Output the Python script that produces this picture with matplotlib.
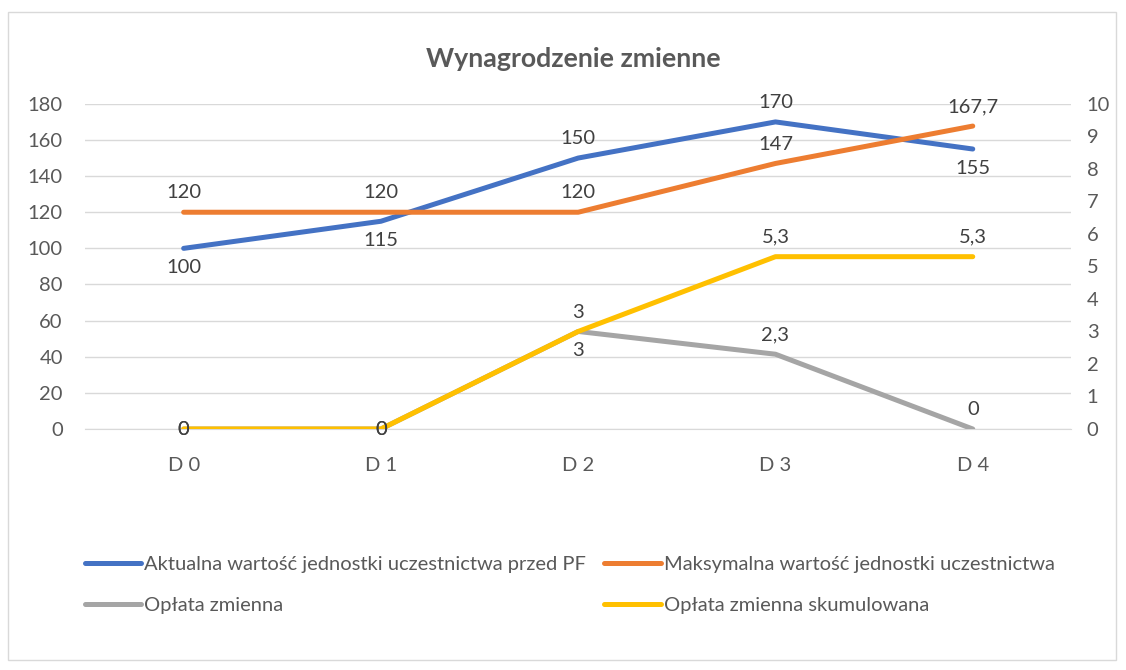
import matplotlib.pyplot as plt
from matplotlib.patches import Rectangle

plt.rcParams['font.family'] = ['Lato', 'DejaVu Sans']

# dane
kategorie = ['D 0', 'D 1', 'D 2', 'D 3', 'D 4']
aktualna = [100, 115, 150, 170, 155]
maksymalna = [120, 120, 120, 147, 167.7]
oplata = [0, 0, 3, 2.3, 0]
oplata_skum = [0, 0, 3, 5.3, 5.3]

# pozycje etykiet: 1 = nad, -1 = pod, 0 = na punkcie
poz_aktualna = [-1, -1, 1, 1, -1]
poz_maksymalna = [1, 1, 1, 1, 1]
poz_oplata = [0, 0, -1, 1, 1]
poz_oplata_skum = [0, 0, 1, 1, 1]

kolor_tekstu = '#404040'
siatka = '#D9D9D9'


def fmt(v):
    return ('%g' % v).replace('.', ',')


fig = plt.figure(figsize=(11.26, 6.7), dpi=100)
fig.patches.append(Rectangle((8 / 1126, 1 - 660 / 670), 1108 / 1126, 648 / 670,
                             transform=fig.transFigure, fill=False,
                             edgecolor=siatka, linewidth=1))

ax = fig.add_axes([0.0755, 0.3597, 0.876, 0.4853])
ax2 = ax.twinx()

x = list(range(len(kategorie)))

l1, = ax.plot(x, aktualna, color='#4472C4', linewidth=3.6, solid_capstyle='round', zorder=3)
l2, = ax.plot(x, maksymalna, color='#ED7D31', linewidth=3.6, solid_capstyle='round', zorder=3)
l3, = ax2.plot(x, oplata, color='#A5A5A5', linewidth=3.6, solid_capstyle='round', zorder=3)
l4, = ax2.plot(x, oplata_skum, color='#FFC000', linewidth=3.6, solid_capstyle='round', zorder=4)

ax.set_xlim(-0.5, 4.5)
ax.set_ylim(0, 180)
ax2.set_ylim(0, 10)
ax.set_yticks(range(0, 181, 20))
ax2.set_yticks(range(0, 11))
ax.set_xticks(x)
ax.set_xticklabels(kategorie)

ax.grid(axis='y', color=siatka, linewidth=1)
ax.set_axisbelow(True)
for a in (ax, ax2):
    for s in a.spines.values():
        s.set_visible(False)
    a.tick_params(length=0, labelsize=14.5, colors='#595959')
ax.spines['bottom'].set_visible(True)
ax.spines['bottom'].set_color(siatka)
ax.tick_params(axis='y', pad=16)
ax2.tick_params(axis='y', pad=11)
ax.tick_params(axis='x', pad=20)


def etykiety(a, wartosci, pozycje):
    for xi, v, p in zip(x, wartosci, pozycje):
        a.annotate(fmt(v), (xi, v), xytext=(0, 14 * p), textcoords='offset points',
                   ha='center', va='center', fontsize=14.5, color=kolor_tekstu, zorder=6)


etykiety(ax, aktualna, poz_aktualna)
etykiety(ax, maksymalna, poz_maksymalna)
etykiety(ax2, oplata, poz_oplata)
etykiety(ax2, oplata_skum, poz_oplata_skum)

fig.text(0.509, 1 - 59 / 670, 'Wynagrodzenie zmienne', ha='center', va='center',
         fontsize=19.3, fontweight='bold', color='#595959')

# kolejnosc wierszami jak w Excelu
leg = fig.legend([l1, l3, l2, l4],
                 ['Aktualna wartość jednostki uczestnictwa przed PF',
                  'Opłata zmienna',
                  'Maksymalna wartość jednostki uczestnictwa',
                  'Opłata zmienna skumulowana'],
                 loc='upper left', bbox_to_anchor=(85 / 1126, 1 - 556 / 670), ncol=2,
                 frameon=False, fontsize=14.5, handlelength=2.8, handletextpad=0.15,
                 columnspacing=0.9, labelspacing=1.2, borderpad=0, borderaxespad=0,
                 labelcolor='#595959')

fig.savefig('out.png', dpi=100)
